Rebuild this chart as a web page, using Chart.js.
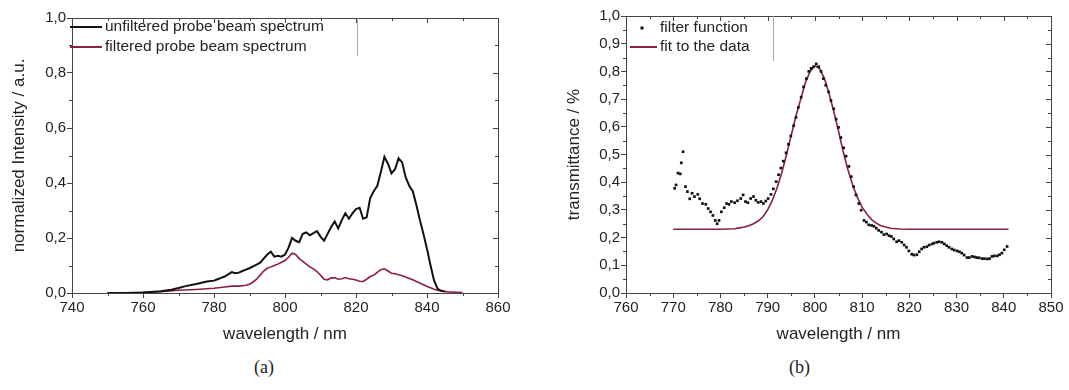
<!DOCTYPE html>
<html>
<head>
<meta charset="utf-8">
<script src="https://cdn.jsdelivr.net/npm/chart.js@4.4.1/dist/chart.umd.min.js"></script>
<style>
  body { margin: 0; background: #fff; }
  #wrap { position: relative; width: 1069px; height: 390px; }
  canvas { position: absolute; top: 0; }
  .cap { position: absolute; top: 357px; font: 18px "Liberation Serif", "Times New Roman", serif; color: #222; }
</style>
</head>
<body>
<div id="wrap">
  <canvas id="leftChart" width="540" height="352" style="left:0"></canvas>
  <canvas id="rightChart" width="529" height="352" style="left:540px"></canvas>
  <div class="cap" style="left:254px">(a)</div>
  <div class="cap" style="left:789px">(b)</div>
</div>
<script>
// (a) probe beam spectra
const unfilteredWl = [750, 755, 760, 765, 768, 770, 772, 775, 778, 780, 781, 782, 783, 784, 785, 786, 787, 788, 789, 790,
  791, 792, 793, 794, 795, 796, 797, 798, 799, 800, 801, 802, 803, 804, 805, 806, 807, 808, 809, 810,
  811, 812, 813, 814, 815, 816, 817, 818, 819, 820, 821, 822, 823, 824, 825, 826, 827, 828, 829, 830,
  831, 832, 833, 834, 835, 836, 837, 838, 839, 840, 841, 842, 843, 844, 845];
const unfilteredVal = [0.0, 0.0, 0.002, 0.006, 0.012, 0.018, 0.025, 0.033, 0.042, 0.045, 0.05, 0.055, 0.06, 0.068, 0.076, 0.072, 0.074, 0.08, 0.085, 0.09,
  0.097, 0.103, 0.11, 0.125, 0.14, 0.15, 0.132, 0.135, 0.132, 0.14, 0.165, 0.2, 0.19, 0.185, 0.215, 0.22, 0.21, 0.218, 0.225, 0.205,
  0.19, 0.215, 0.24, 0.26, 0.235, 0.265, 0.29, 0.27, 0.29, 0.305, 0.31, 0.27, 0.275, 0.345, 0.37, 0.39, 0.44, 0.495, 0.47, 0.435,
  0.45, 0.49, 0.475, 0.42, 0.39, 0.37, 0.32, 0.265, 0.215, 0.16, 0.1, 0.045, 0.015, 0.008, 0.005];
const filteredWl = [750, 755, 760, 765, 770, 775, 780, 783, 785, 787, 789, 790, 791, 792, 793, 794, 795, 796, 797, 798,
  799, 800, 801, 802, 803, 804, 805, 806, 807, 808, 809, 810, 811, 812, 813, 814, 815, 816, 817, 818,
  819, 820, 821, 822, 823, 824, 825, 826, 827, 828, 829, 830, 831, 832, 833, 834, 835, 836, 837, 838,
  839, 840, 841, 842, 843, 844, 846, 848, 850];
const filteredVal = [0.0, 0.0, 0.002, 0.005, 0.01, 0.013, 0.017, 0.022, 0.025, 0.025, 0.028, 0.032, 0.04, 0.05, 0.065, 0.08, 0.09, 0.095, 0.1, 0.105,
  0.112, 0.118, 0.13, 0.145, 0.14, 0.125, 0.115, 0.105, 0.095, 0.088, 0.078, 0.065, 0.05, 0.048, 0.055, 0.055, 0.05, 0.052, 0.056, 0.052,
  0.05, 0.047, 0.043, 0.042, 0.05, 0.06, 0.065, 0.075, 0.085, 0.088, 0.08, 0.072, 0.07, 0.066, 0.063, 0.058, 0.053, 0.048, 0.042, 0.036,
  0.03, 0.024, 0.019, 0.014, 0.01, 0.007, 0.004, 0.003, 0.002];

// (b) filter transmittance and fit
const filterWl = [770.3, 770.6, 771.0, 771.5, 771.7, 772.1, 772.6, 773.0, 773.5, 774.0, 774.5, 775.2, 775.6, 776.2, 776.9, 777.4, 777.9, 778.4, 778.9, 779.3,
  779.7, 780.2, 780.8, 781.3, 781.8, 782.3, 783.0, 783.6, 784.3, 784.8, 785.3, 785.8, 786.4, 787.0, 787.5, 788.0, 788.6, 789.1, 789.6, 790.1,
  790.7, 791.2, 791.8, 792.3, 792.8, 793.3, 793.9, 794.4, 794.9, 795.5, 796.0, 796.5, 797.1, 797.6, 798.2, 798.7, 799.2, 799.7, 800.3, 800.8,
  801.3, 801.8, 802.3, 802.9, 803.4, 804.0, 804.5, 805.0, 805.5, 806.1, 806.6, 807.2, 807.7, 808.2, 808.7, 809.3, 809.8, 810.4, 810.9, 811.4,
  812.0, 812.5, 813.0, 813.5, 814.1, 814.6, 815.2, 815.7, 816.2, 816.7, 817.3, 817.8, 818.4, 818.9, 819.4, 819.9, 820.5, 821.0, 821.6, 822.1,
  822.6, 823.1, 823.7, 824.2, 824.8, 825.2, 825.8, 826.3, 826.9, 827.4, 827.9, 828.4, 829.0, 829.5, 830.1, 830.6, 831.1, 831.6, 832.2, 832.7,
  833.3, 833.8, 834.3, 834.8, 835.4, 835.9, 836.5, 837.0, 837.5, 838.0, 838.6, 839.1, 839.6, 840.1, 840.7];
const filterVal = [0.378, 0.39, 0.433, 0.43, 0.47, 0.51, 0.384, 0.366, 0.34, 0.36, 0.348, 0.356, 0.34, 0.323, 0.32, 0.305, 0.293, 0.28, 0.262, 0.25,
  0.262, 0.293, 0.308, 0.323, 0.32, 0.33, 0.326, 0.333, 0.341, 0.354, 0.33, 0.326, 0.341, 0.348, 0.335, 0.327, 0.33, 0.323, 0.332, 0.341,
  0.356, 0.376, 0.402, 0.427, 0.451, 0.476, 0.506, 0.537, 0.567, 0.604, 0.634, 0.67, 0.707, 0.744, 0.774, 0.8, 0.811, 0.817, 0.827, 0.817,
  0.8, 0.774, 0.75, 0.726, 0.695, 0.665, 0.628, 0.598, 0.561, 0.524, 0.494, 0.457, 0.42, 0.384, 0.354, 0.323, 0.299, 0.262, 0.256, 0.246,
  0.244, 0.241, 0.234, 0.226, 0.22, 0.211, 0.213, 0.207, 0.204, 0.195, 0.185, 0.189, 0.183, 0.173, 0.165, 0.152, 0.14, 0.137, 0.138, 0.149,
  0.159, 0.165, 0.167, 0.173, 0.177, 0.18, 0.183, 0.185, 0.183, 0.177, 0.171, 0.165, 0.159, 0.155, 0.152, 0.149, 0.144, 0.137, 0.128, 0.128,
  0.132, 0.13, 0.128, 0.127, 0.124, 0.124, 0.123, 0.124, 0.132, 0.134, 0.134, 0.138, 0.144, 0.156, 0.168];
const fitWl = [770, 775, 780, 783, 784, 785, 786, 787, 788, 789, 790, 791, 792, 793, 794, 795, 796, 797, 798, 799,
  800, 801, 802, 803, 804, 805, 806, 807, 808, 809, 810, 811, 812, 813, 814, 815, 816, 818, 820, 830, 841];
const fitVal = [0.23, 0.23, 0.23, 0.232, 0.235, 0.238, 0.243, 0.25, 0.26, 0.275, 0.3, 0.335, 0.38, 0.435, 0.5, 0.57, 0.64, 0.7, 0.76, 0.8,
  0.82, 0.81, 0.775, 0.72, 0.655, 0.585, 0.51, 0.445, 0.39, 0.345, 0.31, 0.285, 0.265, 0.252, 0.243, 0.238, 0.234, 0.231, 0.23, 0.23, 0.23];

const maroon = '#8a1f45';
const axisColor = '#444';
const textColor = '#222';
const fontFamily = '"Liberation Sans", Arial, sans-serif';

function pairs(xs, ys) {
  return xs.map((x, i) => ({ x: x, y: ys[i] }));
}
function comma(v) {
  return v.toFixed(1).replace('.', ',');
}

// frame, minor ticks and inward ticks on top/right
const framePlugin = {
  id: 'frame',
  afterDraw(chart, args, opts) {
    const ctx = chart.ctx;
    const a = chart.chartArea;
    const xs = chart.scales.x, ys = chart.scales.y;
    ctx.save();
    ctx.strokeStyle = axisColor;
    ctx.lineWidth = 1;
    ctx.strokeRect(a.left + 0.5, a.top + 0.5, a.right - a.left, a.bottom - a.top);
    ctx.beginPath();
    const nx = Math.round((xs.max - xs.min) / opts.xMinor);
    for (let i = 0; i <= nx; i++) {
      const px = Math.round(xs.getPixelForValue(xs.min + i * opts.xMinor)) + 0.5;
      const major = i % 2 === 0;
      if (!major) { ctx.moveTo(px, a.bottom); ctx.lineTo(px, a.bottom + 3); }
      ctx.moveTo(px, a.top); ctx.lineTo(px, a.top + (major ? 5 : 3));
    }
    const ny = Math.round((ys.max - ys.min) / opts.yMinor);
    for (let i = 0; i <= ny; i++) {
      const py = Math.round(ys.getPixelForValue(ys.min + i * opts.yMinor)) + 0.5;
      const major = i % 2 === 0;
      if (!major) { ctx.moveTo(a.left - 3, py); ctx.lineTo(a.left, py); }
      ctx.moveTo(a.right, py); ctx.lineTo(a.right - (major ? 5 : 3), py);
    }
    ctx.stroke();
    ctx.restore();
  }
};

// legend drawn inside the plot area, top-left
const insideLegend = {
  id: 'insideLegend',
  afterDraw(chart, args, opts) {
    const ctx = chart.ctx;
    const a = chart.chartArea;
    ctx.save();
    ctx.font = '15.5px ' + fontFamily;
    ctx.textBaseline = 'middle';
    chart.data.datasets.forEach((ds, i) => {
      const y = a.top + opts.rows[i];
      if (ds.showLine === false) {
        ctx.fillStyle = ds.pointBackgroundColor;
        ctx.fillRect(a.left + opts.dotX - 1.5, y - 1.5, 3, 3);
      } else {
        ctx.strokeStyle = ds.borderColor;
        ctx.lineWidth = 2;
        ctx.beginPath();
        ctx.moveTo(a.left + opts.lineX[0], y);
        ctx.lineTo(a.left + opts.lineX[1], y);
        ctx.stroke();
      }
      ctx.fillStyle = '#222';
      ctx.fillText(ds.label, a.left + opts.textX, y);
    });
    ctx.strokeStyle = '#aaa';
    ctx.lineWidth = 1;
    ctx.beginPath();
    ctx.moveTo(a.left + opts.frameX + 0.5, a.top);
    ctx.lineTo(a.left + opts.frameX + 0.5, a.top + opts.frameH);
    ctx.stroke();
    ctx.restore();
  }
};

function scalesFor(xMin, xMax, xStep, yStep, yTitle, yWidth) {
  const tickFont = { family: fontFamily, size: 15 };
  const titleFont = { family: fontFamily, size: 17 };
  return {
    x: {
      type: 'linear', min: xMin, max: xMax,
      ticks: { stepSize: xStep, color: textColor, font: tickFont, padding: 1, maxRotation: 0, autoSkip: false },
      grid: { drawOnChartArea: false, color: axisColor, tickLength: 5 },
      border: { color: axisColor },
      title: { display: true, text: 'wavelength / nm', color: textColor, font: titleFont },
      afterFit: s => { s.height = 56; }
    },
    y: {
      min: 0, max: 1,
      ticks: { stepSize: yStep, color: textColor, font: tickFont, padding: 1, callback: v => comma(v) },
      grid: { drawOnChartArea: false, color: axisColor, tickLength: 5 },
      border: { color: axisColor },
      title: { display: true, text: yTitle, color: textColor, font: titleFont },
      afterFit: s => { s.width = yWidth; }
    }
  };
}

window.onload = function() {
  const lctx = document.getElementById('leftChart');
  const rctx = document.getElementById('rightChart');

  new Chart(lctx, {
    type: 'line',
    data: {
      datasets: [{
        label: 'unfiltered probe beam spectrum',
        data: pairs(unfilteredWl, unfilteredVal),
        borderColor: '#111',
        borderWidth: 2,
        pointRadius: 0,
        tension: 0
      }, {
        label: 'filtered probe beam spectrum',
        data: pairs(filteredWl, filteredVal),
        borderColor: maroon,
        borderWidth: 1.6,
        pointRadius: 0,
        tension: 0
      }]
    },
    options: {
      responsive: false,
      animation: false,
      layout: { padding: { left: 5, right: 42, top: 18, bottom: 3 } },
      scales: scalesFor(740, 860, 20, 0.2, 'normalized Intensity / a.u.', 67),
      plugins: {
        legend: { display: false },
        tooltip: { enabled: false },
        frame: { xMinor: 10, yMinor: 0.1 },
        insideLegend: { rows: [9, 29], lineX: [-2, 30], textX: 33, frameX: 285, frameH: 38 }
      }
    },
    plugins: [framePlugin, insideLegend]
  });

  new Chart(rctx, {
    type: 'scatter',
    data: {
      datasets: [{
        label: 'filter function',
        data: pairs(filterWl, filterVal),
        showLine: false,
        pointStyle: 'rect',
        pointRadius: 1.9,
        pointBackgroundColor: '#111',
        pointBorderWidth: 0,
        order: 0
      }, {
        label: 'fit to the data',
        data: pairs(fitWl, fitVal),
        showLine: true,
        borderColor: maroon,
        borderWidth: 1.6,
        pointRadius: 0,
        tension: 0,
        order: 1
      }]
    },
    options: {
      responsive: false,
      animation: false,
      layout: { padding: { left: 20, right: 18, top: 16, bottom: 3 } },
      scales: scalesFor(760, 850, 10, 0.1, 'transmittance / %', 66),
      plugins: {
        legend: { display: false },
        tooltip: { enabled: false },
        frame: { xMinor: 5, yMinor: 0.05 },
        insideLegend: { rows: [12, 31], lineX: [4, 31], dotX: 16, textX: 34, frameX: 147, frameH: 45 }
      }
    },
    plugins: [framePlugin, insideLegend]
  });
};
</script>
</body>
</html>
